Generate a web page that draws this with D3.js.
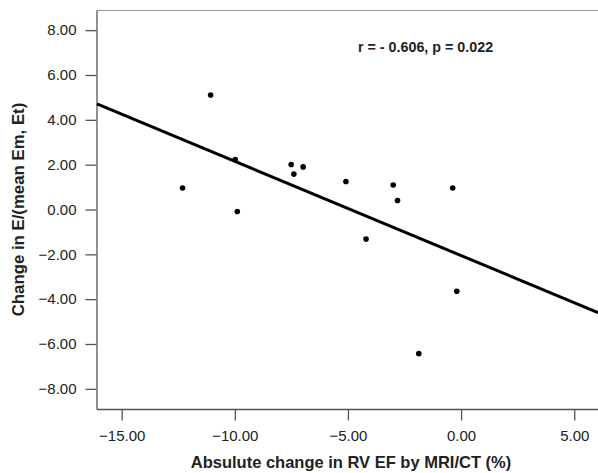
<!DOCTYPE html>
<html>
<head>
<meta charset="utf-8">
<script src="https://cdn.jsdelivr.net/npm/d3@7"></script>
<style>
  html, body { margin: 0; padding: 0; background: #fff; }
  svg { display: block; font-family: "Liberation Sans", Arial, sans-serif; }
</style>
</head>
<body>
<div id="chart"></div>
<script>
// scatter values
const rvChange = [-12.31, -11.07, -9.98, -9.89, -7.51, -7.39, -6.98, -5.09, -4.20, -3.00, -2.81, -1.87, -0.37, -0.19];
const eRatioChange = [0.96, 5.11, 2.23, -0.09, 2.01, 1.58, 1.90, 1.25, -1.32, 1.09, 0.40, -6.43, 0.96, -3.65];
const xTicks = [-15, -10, -5, 0, 5];
const yTicks = [-8, -6, -4, -2, 0, 2, 4, 6, 8];
const statsLabel = "r = - 0.606, p = 0.022";
const xTitle = "Absulute change in RV EF by MRI/CT (%)";
const yTitle = "Change in E/(mean Em, Et)";

const width = 598;
const height = 473;
const plot = { left: 97, top: 10, right: 598, bottom: 409 };

const svg = d3.select("#chart")
    .append("svg")
    .attr("width", width)
    .attr("height", height);

const x = d3.scaleLinear().domain([-16.09, 6.05]).range([plot.left, plot.right]);
const y = d3.scaleLinear().domain([-8.9, 8.9]).range([plot.bottom, plot.top]);

const points = rvChange.map((v, i) => ({ x: v, y: eRatioChange[i] }));

// least squares fit
const mx = d3.mean(points, d => d.x);
const my = d3.mean(points, d => d.y);
const slope = d3.sum(points, d => (d.x - mx) * (d.y - my)) / d3.sum(points, d => (d.x - mx) ** 2);
const intercept = my - slope * mx;

// top frame line
svg.append("line")
    .attr("x1", plot.left).attr("x2", plot.right + 2)
    .attr("y1", plot.top + 0.5).attr("y2", plot.top + 0.5)
    .attr("stroke", "#9a9a9a")
    .attr("stroke-width", 1.2);

const fmt = d3.format(".2f");

const xAxis = svg.append("g")
    .attr("transform", `translate(0,${plot.bottom + 0.5})`)
    .call(d3.axisBottom(x).tickValues(xTicks).tickFormat(fmt).tickSize(11).tickSizeOuter(0).tickPadding(10));

const yAxis = svg.append("g")
    .attr("transform", `translate(${plot.left - 0.5},0)`)
    .call(d3.axisLeft(y).tickValues(yTicks).tickFormat(fmt).tickSize(11).tickSizeOuter(0).tickPadding(9));

[xAxis, yAxis].forEach(g => {
    g.select(".domain").attr("stroke", "#555").attr("stroke-width", 1.3);
    g.selectAll(".tick line").attr("stroke", "#555").attr("stroke-width", 1.3);
    g.selectAll(".tick text")
        .attr("fill", "#222")
        .style("font-size", "15px")
        .style("font-family", "'Liberation Sans', Arial, sans-serif");
});
xAxis.select(".domain").attr("d", `M${plot.left},0H${plot.right + 2}`);

// regression line
const [x0, x1] = x.domain();
svg.append("line")
    .attr("x1", x(x0)).attr("y1", y(intercept + slope * x0))
    .attr("x2", x(x1)).attr("y2", y(intercept + slope * x1))
    .attr("stroke", "#000")
    .attr("stroke-width", 3);

// points
svg.append("g")
    .selectAll("circle")
    .data(points)
    .join("circle")
    .attr("cx", d => x(d.x))
    .attr("cy", d => y(d.y))
    .attr("r", 2.8)
    .attr("fill", "#000");

// stats annotation
svg.append("text")
    .attr("x", 358)
    .attr("y", 52)
    .attr("fill", "#222")
    .style("font-size", "14.3px")
    .style("font-weight", "bold")
    .text(statsLabel);

// axis titles
svg.append("text")
    .attr("x", 351)
    .attr("y", 468)
    .attr("text-anchor", "middle")
    .attr("fill", "#222")
    .style("font-size", "16.5px")
    .style("font-weight", "bold")
    .text(xTitle);

svg.append("text")
    .attr("transform", `translate(23.5,${(plot.top + plot.bottom) / 2}) rotate(-90)`)
    .attr("text-anchor", "middle")
    .attr("fill", "#222")
    .style("font-size", "16.8px")
    .style("font-weight", "bold")
    .text(yTitle);
</script>
</body>
</html>
